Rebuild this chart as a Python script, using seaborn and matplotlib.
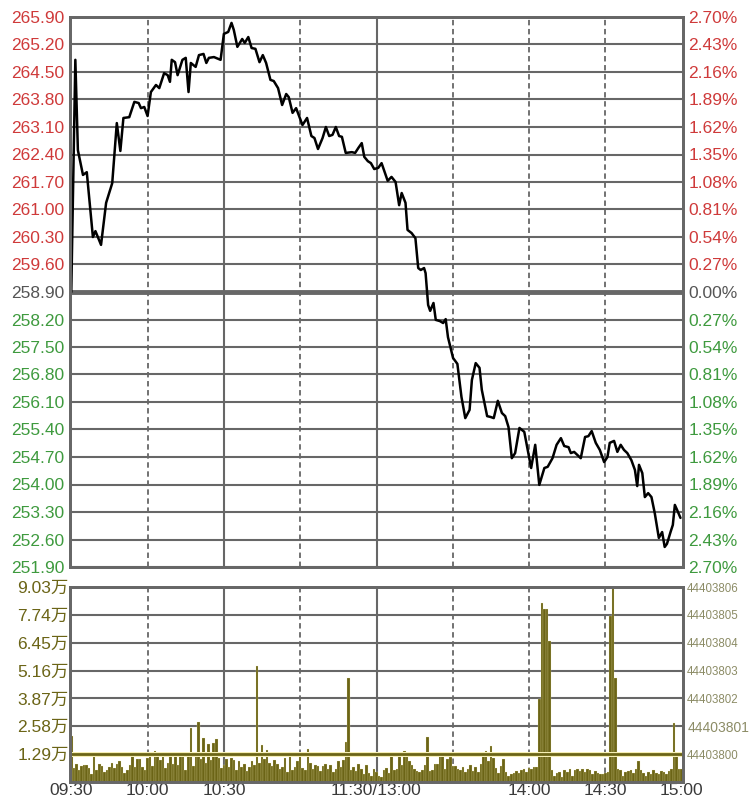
import matplotlib
matplotlib.use("Agg")
import matplotlib.pyplot as plt
import numpy as np
import pandas as pd
import seaborn as sns

# price line: minutes after 09:30 (lunch break removed) and last price
minutes = [
    0, 1.6, 2.6, 4.6, 6.1, 8.5, 9.5, 11.7, 13.7, 16.1,
    17.9, 19.3, 20.5, 22.8, 24.8, 26.5, 27.4, 28.7, 30.0, 31.3,
    33.3, 34.6, 36.5, 37.9, 38.8, 39.5, 40.8, 41.8, 43.7, 45.0,
    46.1, 47.0, 48.9, 50.2, 52.0, 53.1, 54.1, 56.1, 58.7, 60.0,
    61.7, 63.0, 63.9, 65.3, 67.2, 68.2, 69.6, 70.9, 72.4, 74.0,
    75.3, 76.6, 78.3, 79.6, 81.3, 82.9, 84.5, 85.5, 87.0, 88.4,
    89.4, 90.9, 92.7, 94.4, 95.6, 97.0, 98.8, 100.1, 101.4, 102.7,
    104.0, 105.3, 106.4, 107.9, 110.3, 111.6, 112.9, 114.2, 115.2, 116.6,
    117.8, 119.1, 120.7, 122.0, 124.4, 125.9, 127.5, 128.9, 129.9, 131.4,
    132.2, 133.8, 135.3, 136.4, 137.4, 138.7, 139.3, 140.3, 141.1, 142.4,
    143.3, 144.9, 146.2, 147.2, 148.1, 150.1, 151.8, 153.4, 154.9, 156.6,
    157.5, 159.0, 160.5, 161.4, 163.5, 164.8, 166.1, 167.7, 169.3, 170.6,
    171.9, 173.2, 174.5, 176.2, 178.1, 180.8, 182.4, 184.0, 186.0, 187.3,
    189.2, 190.8, 192.5, 193.8, 195.5, 196.4, 197.7, 199.0, 200.3, 202.0,
    203.3, 204.6, 206.2, 207.8, 209.5, 210.8, 211.7, 213.4, 214.7, 216.0,
    217.3, 218.6, 220.2, 221.6, 222.5, 223.2, 224.5, 225.5, 226.8, 228.1,
    229.4, 231.0, 232.3, 233.3, 234.2, 235.6, 236.5, 237.3, 238.2, 239.5,
]
prices = [
    258.90, 264.81, 262.51, 261.88, 261.95, 260.30, 260.45, 260.10, 261.17, 261.67,
    263.20, 262.49, 263.33, 263.35, 263.74, 263.71, 263.58, 263.61, 263.38, 263.99,
    264.17, 264.09, 264.47, 264.42, 264.25, 264.81, 264.75, 264.42, 264.81, 264.86,
    263.99, 264.73, 264.63, 264.93, 264.96, 264.73, 264.86, 264.88, 264.81, 265.47,
    265.52, 265.75, 265.57, 265.14, 265.34, 265.24, 265.39, 265.11, 265.09, 264.75,
    264.93, 264.73, 264.30, 264.27, 264.09, 263.66, 263.94, 263.86, 263.46, 263.58,
    263.41, 263.15, 263.33, 262.87, 262.82, 262.54, 262.82, 263.10, 262.87, 262.90,
    263.10, 262.87, 262.85, 262.44, 262.46, 262.44, 262.57, 262.69, 262.34, 262.23,
    262.18, 262.03, 262.06, 262.18, 261.73, 261.83, 261.70, 261.11, 261.42, 261.17,
    260.48, 260.40, 260.27, 259.51, 259.46, 259.51, 259.38, 258.57, 258.42, 258.62,
    258.19, 258.16, 258.11, 258.21, 257.75, 257.22, 257.07, 256.23, 255.69, 255.90,
    256.66, 257.09, 256.97, 256.41, 255.74, 255.72, 255.69, 256.13, 255.82, 255.74,
    255.46, 254.67, 254.80, 255.44, 255.34, 254.42, 255.01, 253.99, 254.42, 254.45,
    254.67, 255.01, 255.18, 254.98, 254.95, 254.80, 254.83, 254.75, 254.67, 255.21,
    255.23, 255.36, 255.06, 254.88, 254.57, 254.70, 255.06, 255.11, 254.83, 255.01,
    254.88, 254.80, 254.62, 254.37, 253.96, 254.50, 254.29, 253.68, 253.78, 253.68,
    253.27, 252.64, 252.79, 252.41, 252.49, 252.79, 252.97, 253.48, 253.35, 253.15,
]

# volume per minute, in 万 shares (241 bars, 09:30 .. 15:00)
volumes = [
    2.15, 0.65, 0.85, 0.55, 0.75, 0.8, 0.8, 0.65, 0.35, 1.2,
    0.55, 0.85, 0.75, 0.45, 0.55, 0.7, 0.9, 0.65, 0.85, 0.95,
    0.7, 0.4, 0.55, 0.8, 1.4, 0.7, 1.05, 1.05, 0.7, 0.55,
    1.1, 1.35, 0.75, 1.45, 1.35, 1.0, 1.2, 0.65, 0.9, 1.3,
    0.85, 1.25, 0.8, 1.3, 1.3, 0.55, 1.3, 2.5, 0.75, 1.2,
    2.8, 1.05, 2.05, 0.9, 1.75, 1.0, 1.8, 2.0, 1.1, 0.65,
    0.8, 1.05, 0.7, 1.1, 1.0, 0.55, 0.95, 0.7, 0.85, 0.5,
    0.7, 0.95, 0.8, 5.35, 0.9, 1.7, 1.05, 1.5, 0.9, 0.75,
    1.0, 0.85, 0.6, 0.7, 1.1, 0.45, 1.4, 0.55, 0.7, 0.95,
    1.2, 0.65, 0.55, 1.55, 0.9, 0.6, 0.8, 0.75, 0.5, 0.75,
    0.85, 0.6, 0.8, 0.45, 0.6, 0.95, 0.7, 1.0, 1.85, 4.8,
    0.55, 0.7, 0.5, 0.85, 0.6, 0.35, 0.8, 0.4, 0.3, 0.6,
    0.45, 0.3, 0.25, 0.55, 0.65, 0.4, 1.25, 0.55, 0.6, 1.2,
    0.8, 1.45, 1.2, 0.95, 0.8, 0.6, 0.5, 0.45, 0.55, 0.8,
    2.1, 0.5, 0.55, 0.85, 0.85, 1.4, 1.25, 0.6, 1.05, 1.15,
    0.75, 0.75, 0.6, 0.55, 0.7, 0.45, 0.6, 0.8, 0.5, 0.7,
    0.45, 0.85, 1.2, 1.45, 0.95, 1.65, 1.1, 0.65, 0.4, 0.75,
    1.05, 0.45, 0.3, 0.35, 0.4, 0.5, 0.4, 0.55, 0.6, 0.45,
    0.65, 0.6, 0.7, 0.7, 3.85, 8.3, 8.0, 8.0, 6.55, 0.55,
    0.3, 0.4, 0.45, 0.25, 0.55, 0.45, 0.6, 0.3, 0.55, 0.6,
    0.5, 0.6, 0.45, 0.6, 0.55, 0.35, 0.5, 0.4, 0.35, 0.35,
    0.4, 0.45, 7.7, 9.03, 4.8, 0.6, 0.55, 0.3, 0.45, 0.5,
    0.55, 0.4, 0.6, 0.95, 0.55, 0.4, 0.3, 0.45, 0.35, 0.55,
    0.4, 0.35, 0.5, 0.45, 0.35, 0.5, 0.6, 2.75, 1.3, 0.6,
    0.6,
]

prev_close = 258.90
price_step = 0.70
vol_ticks = [1.29, 2.58, 3.87, 5.16, 6.45, 7.74, 9.03]
vol_right_labels = ["44403800", "44403801", "44403802", "44403803",
                    "44403804", "44403805", "44403806"]
time_ticks = [0, 30, 60, 120, 180, 210, 240]
time_labels = ["09:30", "10:00", "10:30", "11:30/13:00", "14:00", "14:30", "15:00"]
solid_minutes = [60, 120]
dashed_minutes = [30, 90, 150, 180, 210]

RED = "#cf3a3a"
GREEN = "#3e9a3e"
GRAY = "#555555"
GRID = "#676767"
OLIVE = "#6b6416"
OLIVE_EDGE = "#f6efb4"
FONTS = ["Liberation Sans", "Noto Sans CJK SC", "DejaVu Sans"]

sns.set_style("white")
plt.rcParams["font.family"] = FONTS

fig = plt.figure(figsize=(7.5, 7.99), dpi=100)
ax_p = fig.add_axes([70 / 750, 1 - 567 / 799, 613 / 750, 550 / 799])
ax_v = fig.add_axes([70 / 750, 1 - 782 / 799, 613 / 750, 195 / 799])

price_ticks = np.round(prev_close + price_step * np.arange(-10, 11), 2)

# ---- price panel
price_df = pd.DataFrame({"minute": minutes, "price": prices})
sns.lineplot(data=price_df, x="minute", y="price", ax=ax_p, color="black",
             linewidth=1.8, estimator=None, sort=False, zorder=5)

for p in price_ticks:
    if abs(p - prev_close) < 1e-6:
        ax_p.axhline(p, color=GRID, lw=3.5, zorder=2)
    else:
        ax_p.axhline(p, color=GRID, lw=1.5, zorder=1)

for ax in (ax_p, ax_v):
    for m in solid_minutes:
        ax.axvline(m, color=GRID, lw=1.5, zorder=1)
    for m in dashed_minutes:
        ax.axvline(m, color=GRID, lw=1.3, ls=(0, (3, 2)), zorder=1)

ax_p.set_xlim(-0.5, 240.5)
ax_p.set_ylim(price_ticks[0], price_ticks[-1])
ax_p.set_xticks([])
ax_p.set_yticks(price_ticks)
ax_p.set_yticklabels([f"{p:.2f}" for p in price_ticks])
ax_p.set_xlabel("")
ax_p.set_ylabel("")
ax_p.tick_params(axis="y", length=0, pad=4, labelsize=12.5)


def tick_color(p):
    if abs(p - prev_close) < 1e-6:
        return GRAY
    return RED if p > prev_close else GREEN


for lbl, p in zip(ax_p.get_yticklabels(), price_ticks):
    lbl.set_color(tick_color(p))

ax_pr = ax_p.twinx()
ax_pr.set_ylim(ax_p.get_ylim())
ax_pr.set_yticks(price_ticks)
ax_pr.set_yticklabels([f"{abs(p - prev_close) / prev_close * 100:.2f}%" for p in price_ticks])
ax_pr.tick_params(axis="y", length=0, pad=4, labelsize=12.5)
for lbl, p in zip(ax_pr.get_yticklabels(), price_ticks):
    lbl.set_color(tick_color(p))

# ---- volume panel
vol_df = pd.DataFrame({"minute": np.arange(len(volumes)), "volume": volumes})
sns.barplot(data=vol_df, x="minute", y="volume", ax=ax_v, native_scale=True,
            width=1, color=OLIVE, saturation=1, edgecolor=OLIVE_EDGE,
            linewidth=0.15, errorbar=None, zorder=3)

for v in vol_ticks[1:]:
    ax_v.axhline(v, color=GRID, lw=1.5, zorder=1)
ax_v.axhline(vol_ticks[0], color=OLIVE_EDGE, lw=3.6, zorder=4)
ax_v.axhline(vol_ticks[0], color=OLIVE, lw=2.0, zorder=4)

ax_v.set_xlim(-0.5, 240.5)
ax_v.set_ylim(0, vol_ticks[-1])
ax_v.set_xticks(time_ticks)
ax_v.set_xticklabels(time_labels)
ax_v.set_yticks(vol_ticks)
ax_v.set_yticklabels([f"{v:.2f}万" for v in vol_ticks], family=FONTS)
ax_v.set_xlabel("")
ax_v.set_ylabel("")
ax_v.tick_params(axis="y", length=0, pad=1, labelsize=12.5, labelcolor=OLIVE)
ax_v.tick_params(axis="x", length=0, pad=0.5, labelsize=12.5, labelcolor="#3a3a3a")

ax_vr = ax_v.twinx()
ax_vr.set_ylim(ax_v.get_ylim())
ax_vr.set_yticks(vol_ticks)
ax_vr.set_yticklabels(vol_right_labels)
ax_vr.tick_params(axis="y", length=0, pad=3, labelsize=8.3, labelcolor="#8c8c66")
ax_vr.get_yticklabels()[1].set_fontsize(10)

for ax in (ax_p, ax_pr, ax_v, ax_vr):
    for side in ax.spines.values():
        side.set_color(GRID)
        side.set_linewidth(2)
        side.set_zorder(6)

fig.savefig("out.png", dpi=100, facecolor="white")
